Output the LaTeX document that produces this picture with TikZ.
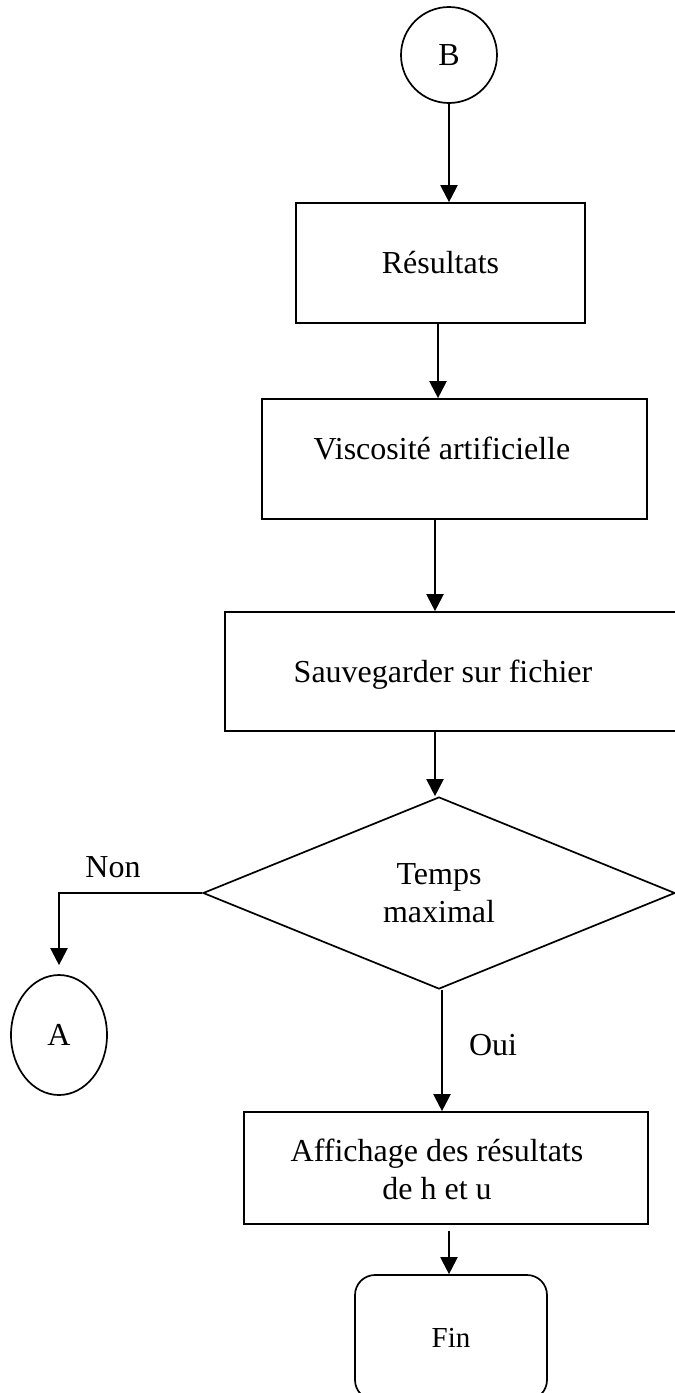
\documentclass[tikz,border=0pt]{standalone}
\usepackage{fontspec}
\setmainfont{Liberation Serif}
\usetikzlibrary{arrows.meta,shapes.geometric}
\tikzset{
  box/.style={draw, line width=1.7pt, rectangle, inner sep=0pt},
  conn/.style={draw, line width=2.2pt, -{Triangle[width=17pt,length=17pt]}},
  txt/.style={font=\fontsize{32}{38}\selectfont, inner sep=0pt, align=center},
}
\begin{document}
\begin{tikzpicture}[x=1pt,y=-1pt]
\useasboundingbox (0,0) rectangle (675,1393);
% nodes
\node[box, circle, minimum size=96pt, txt] (b) at (449,55) {B};
\node[box, minimum width=289pt, minimum height=120pt, txt] (res) at (440.5,263) {Résultats};
\node[box, minimum width=385pt, minimum height=120pt,
      label={[txt, xshift=-12.5pt, yshift=11pt]center:Viscosité artificielle}] (visc) at (454.5,459) {};
\node[box, minimum width=455pt, minimum height=119pt,
      label={[txt, xshift=-9.5pt, yshift=-3.5pt]center:Sauvegarder sur fichier}] (sauv) at (452.5,671.5) {};
\node[box, diamond, minimum width=472pt, minimum height=192pt, txt] (dec) at (439,893) {Temps\\maximal};
\node[box, ellipse, minimum width=96pt, minimum height=120pt, txt] (a) at (59,1035) {A};
\node[box, minimum width=404pt, minimum height=112pt,
      label={[txt, xshift=-9pt, yshift=-1pt]center:Affichage des résultats\\de h et u}] (aff) at (446,1168) {};
\node[box, rounded corners=20pt, minimum width=192pt, minimum height=125pt,
      font=\fontsize{29}{34}\selectfont] (fin) at (451,1337.5) {Fin};
% labels
\node[txt] (non) at (113,867) {Non};
\node[txt] (oui) at (493,1045) {Oui};
% connectors
\draw[conn] (b.south) -- (b.south |- res.north);
\draw[conn] ([xshift=-2.5pt]res.south) -- ([xshift=-2.5pt]res.south |- visc.north);
\draw[conn] ([xshift=-19.5pt]visc.south) -- ([xshift=-19.5pt]visc.south |- sauv.north);
\draw[conn] ([xshift=-17.5pt]sauv.south) -- ([xshift=-17.5pt]sauv.south |- dec.north);
\draw[conn, shorten >=9pt] (dec.west) -| (a.north);
\draw[conn] ([xshift=3pt]dec.south) -- ([xshift=3pt]dec.south |- aff.north);
\draw[conn, shorten <=6pt] ([xshift=3pt]aff.south) -- ([xshift=3pt]aff.south |- fin.north);
\end{tikzpicture}
\end{document}
